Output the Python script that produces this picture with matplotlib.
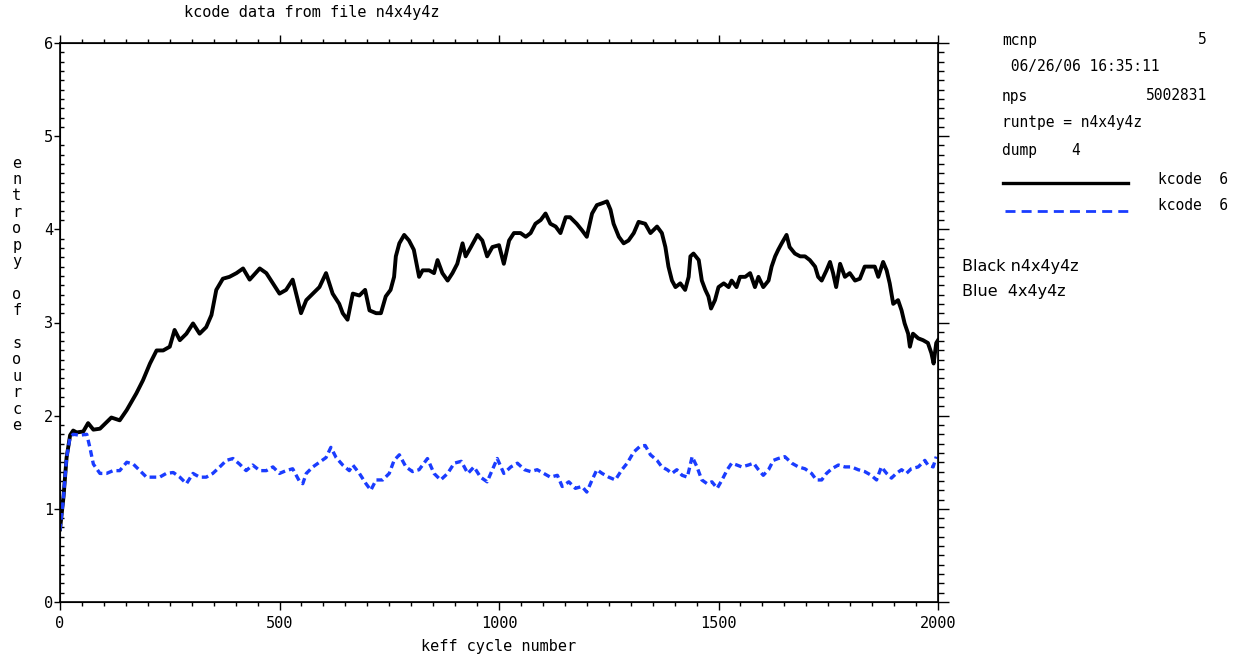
import numpy as np
import matplotlib
matplotlib.use("Agg")
import matplotlib.pyplot as plt
from matplotlib.ticker import MultipleLocator

# shannon entropy of the fission source per keff cycle
black_cycle = [0, 8, 15, 23, 30, 38, 53, 64, 76, 91, 106, 117, 136, 152, 174, 189, 205, 220, 235, 250,
               261, 273, 288, 303, 318, 333, 345, 356, 371, 386, 402, 417, 432, 455, 470, 485, 500, 515,
               530, 549, 561, 576, 591, 606, 621, 636, 644, 655, 667, 682, 695, 705, 720, 731, 742, 753,
               761, 765, 773, 784, 795, 806, 818, 826, 841, 852, 860, 871, 883, 894, 905, 917, 924, 936,
               951, 962, 973, 985, 1000, 1011, 1023, 1034, 1049, 1061, 1072, 1083, 1095, 1106, 1117, 1129,
               1140, 1152, 1162, 1177, 1189, 1200, 1212, 1223, 1235, 1246, 1254, 1261, 1273, 1284, 1295,
               1307, 1318, 1333, 1345, 1360, 1371, 1379, 1386, 1394, 1402, 1413, 1424, 1432, 1436, 1443,
               1455, 1462, 1470, 1477, 1483, 1492, 1500, 1512, 1523, 1530, 1541, 1549, 1561, 1572, 1583,
               1591, 1602, 1614, 1621, 1629, 1636, 1644, 1655, 1662, 1674, 1686, 1697, 1708, 1720, 1727,
               1735, 1746, 1754, 1761, 1768, 1777, 1788, 1799, 1811, 1822, 1833, 1845, 1856, 1864, 1875,
               1883, 1890, 1898, 1909, 1917, 1924, 1932, 1936, 1943, 1955, 1966, 1977, 1985, 1990, 1996, 2000]
black_entropy = [0.78, 1.13, 1.55, 1.79, 1.84, 1.82, 1.83, 1.92, 1.85, 1.86, 1.93, 1.98, 1.95, 2.06, 2.24,
                 2.38, 2.56, 2.70, 2.70, 2.74, 2.92, 2.81, 2.88, 2.99, 2.88, 2.95, 3.08, 3.35, 3.47, 3.49,
                 3.53, 3.58, 3.46, 3.58, 3.53, 3.42, 3.31, 3.35, 3.46, 3.10, 3.24, 3.31, 3.38, 3.53, 3.31,
                 3.20, 3.10, 3.03, 3.31, 3.29, 3.35, 3.13, 3.10, 3.10, 3.28, 3.35, 3.49, 3.71, 3.85, 3.94,
                 3.88, 3.78, 3.49, 3.56, 3.56, 3.53, 3.67, 3.53, 3.45, 3.53, 3.63, 3.85, 3.71, 3.81, 3.94,
                 3.88, 3.71, 3.81, 3.83, 3.63, 3.88, 3.96, 3.96, 3.92, 3.96, 4.06, 4.10, 4.17, 4.06, 4.03,
                 3.96, 4.13, 4.13, 4.06, 3.99, 3.92, 4.17, 4.26, 4.28, 4.30, 4.21, 4.06, 3.92, 3.85, 3.88,
                 3.96, 4.08, 4.06, 3.96, 4.03, 3.96, 3.81, 3.60, 3.45, 3.38, 3.42, 3.35, 3.49, 3.71, 3.74,
                 3.67, 3.45, 3.35, 3.28, 3.15, 3.24, 3.38, 3.42, 3.38, 3.45, 3.38, 3.49, 3.49, 3.53, 3.38,
                 3.49, 3.38, 3.45, 3.60, 3.71, 3.78, 3.85, 3.94, 3.81, 3.74, 3.71, 3.71, 3.67, 3.60, 3.49,
                 3.45, 3.56, 3.65, 3.53, 3.38, 3.63, 3.49, 3.53, 3.45, 3.47, 3.60, 3.60, 3.60, 3.49, 3.65,
                 3.56, 3.42, 3.20, 3.24, 3.13, 2.99, 2.88, 2.74, 2.88, 2.83, 2.81, 2.78, 2.67, 2.56, 2.78, 2.81]

blue_cycle = [0, 8, 15, 23, 30, 45, 61, 68, 76, 91, 106, 121, 136, 152, 167, 182, 197, 212, 227, 242,
              258, 273, 288, 303, 318, 333, 348, 364, 379, 394, 409, 424, 439, 455, 470, 485, 500, 515,
              530, 545, 553, 561, 576, 591, 606, 617, 629, 644, 659, 667, 682, 697, 708, 720, 735, 750,
              761, 773, 788, 803, 818, 837, 852, 867, 883, 898, 914, 929, 943, 958, 973, 985, 996, 1011,
              1027, 1042, 1058, 1072, 1087, 1102, 1117, 1133, 1144, 1159, 1174, 1189, 1200, 1212, 1223,
              1235, 1250, 1265, 1280, 1292, 1307, 1321, 1333, 1345, 1360, 1371, 1383, 1394, 1405, 1417,
              1429, 1440, 1451, 1462, 1474, 1485, 1497, 1508, 1520, 1530, 1542, 1553, 1568, 1580, 1591,
              1602, 1614, 1625, 1636, 1651, 1667, 1682, 1697, 1712, 1723, 1735, 1746, 1758, 1773, 1788,
              1803, 1818, 1833, 1848, 1860, 1871, 1883, 1894, 1905, 1917, 1928, 1939, 1955, 1970, 1977,
              1989, 1996]
blue_entropy = [0.77, 1.13, 1.55, 1.77, 1.80, 1.79, 1.80, 1.66, 1.48, 1.38, 1.38, 1.41, 1.41, 1.50, 1.48,
                1.41, 1.34, 1.34, 1.34, 1.38, 1.39, 1.34, 1.27, 1.38, 1.34, 1.34, 1.38, 1.45, 1.52, 1.54,
                1.48, 1.41, 1.47, 1.41, 1.41, 1.45, 1.38, 1.41, 1.43, 1.30, 1.27, 1.38, 1.45, 1.50, 1.55,
                1.66, 1.55, 1.47, 1.41, 1.47, 1.38, 1.27, 1.20, 1.31, 1.31, 1.38, 1.52, 1.58, 1.45, 1.40,
                1.42, 1.54, 1.38, 1.31, 1.38, 1.49, 1.51, 1.38, 1.45, 1.34, 1.29, 1.42, 1.54, 1.38, 1.45,
                1.49, 1.42, 1.40, 1.42, 1.38, 1.34, 1.36, 1.24, 1.29, 1.22, 1.24, 1.18, 1.31, 1.42, 1.38,
                1.34, 1.31, 1.42, 1.49, 1.61, 1.67, 1.68, 1.58, 1.52, 1.45, 1.42, 1.38, 1.42, 1.36, 1.34,
                1.56, 1.45, 1.31, 1.27, 1.29, 1.22, 1.31, 1.42, 1.49, 1.47, 1.45, 1.47, 1.49, 1.42, 1.36,
                1.42, 1.52, 1.54, 1.56, 1.49, 1.45, 1.43, 1.38, 1.31, 1.31, 1.38, 1.43, 1.47, 1.45, 1.45,
                1.42, 1.40, 1.36, 1.31, 1.45, 1.38, 1.33, 1.38, 1.42, 1.38, 1.43, 1.45, 1.52, 1.47, 1.45,
                1.56]

info_lines = [("mcnp", "5"), (" 06/26/06 16:35:11", ""), ("nps", "5002831"),
              ("runtpe = n4x4y4z", ""), ("dump    4", "")]
series_labels = ["kcode  6", "kcode  6"]
notes = ["Black n4x4y4z", "Blue  4x4y4z"]

W, H = 1252, 656
mono = "DejaVu Sans Mono"
blue = "#1a3cff"

fig = plt.figure(figsize=(W / 100, H / 100), dpi=100)
fig.patch.set_facecolor("white")


def fx(px):
    return px / W


def fy(py):
    return 1 - py / H


ax = fig.add_axes([fx(60), fy(602), fx(938) - fx(60), fy(43) - fy(602)])

ax.plot(black_cycle, black_entropy, color="black", lw=2.8)
ax.plot(blue_cycle, blue_entropy, color=blue, lw=2.4, ls=(0, (2.0, 1.2)))

ax.set_xlim(0, 2000)
ax.set_ylim(0, 6)
ax.xaxis.set_major_locator(MultipleLocator(500))
ax.xaxis.set_minor_locator(MultipleLocator(50))
ax.yaxis.set_major_locator(MultipleLocator(1))
ax.yaxis.set_minor_locator(MultipleLocator(0.1))

# bottom/top ticks point out, left minor ticks point in
ax.tick_params(axis="x", which="both", direction="out", top=True, width=1.0, labelsize=11, pad=4)
ax.tick_params(axis="x", which="major", length=6)
ax.tick_params(axis="x", which="minor", length=3)
ax.tick_params(axis="y", which="major", direction="out", length=4, width=1.0, labelsize=11, pad=1)
ax.tick_params(axis="y", which="minor", direction="in", length=3, width=1.0)
for lab in ax.get_xticklabels() + ax.get_yticklabels():
    lab.set_family(mono)
for sp in ax.spines.values():
    sp.set_linewidth(1.2)

# right-hand ticks, pointing outward
axr = ax.twinx()
axr.set_ylim(0, 6)
axr.yaxis.set_major_locator(MultipleLocator(1))
axr.yaxis.set_minor_locator(MultipleLocator(0.1))
axr.tick_params(which="both", direction="out", width=1.0, labelright=False)
axr.tick_params(which="major", length=8)
axr.tick_params(which="minor", length=4)

ax.set_xlabel("keff cycle number", family=mono, fontsize=11, labelpad=6)

fig.text(fx(184), fy(12), "kcode data from file n4x4y4z", family=mono, fontsize=11,
         ha="left", va="center")

# vertical axis title, one letter per row
ylab = "entropy of source"
for i, ch in enumerate(ylab):
    fig.text(fx(17), fy(163 + i * 16.4), ch, family=mono, fontsize=11, ha="center", va="center")

# run information block on the right
rows_y = [40, 67, 96, 123, 150]
for (left, right), yy in zip(info_lines, rows_y):
    fig.text(fx(1002), fy(yy), left, family=mono, fontsize=10.5, ha="left", va="center")
    if right:
        fig.text(fx(1207), fy(yy), right, family=mono, fontsize=10.5, ha="right", va="center")

fig.add_artist(plt.Line2D([fx(1003), fx(1128)], [fy(183), fy(183)], color="black", lw=2.4))
fig.add_artist(plt.Line2D([fx(1005), fx(1128)], [fy(211), fy(211)], color=blue, lw=2.0,
                          ls=(0, (3.6, 2.2))))
for lab, yy in zip(series_labels, [179, 206]):
    fig.text(fx(1158), fy(yy), lab, family=mono, fontsize=10.5, ha="left", va="center")

for note, yy in zip(notes, [266, 292]):
    fig.text(fx(962), fy(yy), note, family=["Liberation Sans Narrow", "DejaVu Sans"],
             fontsize=11.5, ha="left", va="center")

fig.savefig("out.png", dpi=100)
